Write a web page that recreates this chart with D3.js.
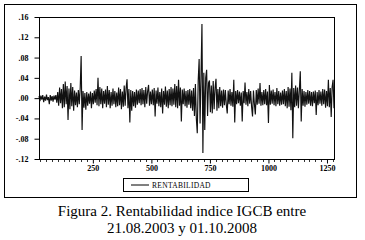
<!DOCTYPE html>
<meta charset="utf-8">
<title>Rentabilidad IGCB</title>
<style>

    body {
        margin: 0;
        background: #fff;
    }

    text {
        font-family: "Liberation Serif", serif;
        fill: #000;
    }

</style>
<body>
<script src="https://d3js.org/d3.v7.min.js"></script>
<script>

    // observations start at 20, one value every 4 observations
    var obsStart = 20,
        obsStep = 4;

    var rentabilidad = [
        .004,-.006,.005,-.003,.006,-.008,.003,-.005,.007,-.004,.002,-.012,.006,-.005,.004,-.007,.005,-.003,.006,-.009,
        .012,-.015,.021,-.010,.018,-.02,.028,-.018,.033,-.012,.024,-.043,.019,-.022,.03,-.016,.022,-.025,.015,-.014,
        .011,-.018,.016,-.012,.02,.083,-.063,.014,-.019,.01,-.023,.012,-.015,.009,-.011,.013,-.02,.01,-.012,.015,
        -.009,.018,-.014,.04,-.016,.022,-.012,.019,-.02,.014,-.011,.017,-.018,.024,-.013,.016,-.02,.012,-.015,.019,
        -.012,.014,-.018,.011,-.016,.021,-.014,.018,-.022,.013,-.017,.025,-.015,.02,.037,-.02,.018,-.048,.016,-.025,
        .014,-.016,.012,-.019,.017,-.013,.015,-.01,.018,-.014,.02,-.012,.016,-.018,.022,-.011,.014,.026,-.015,.013,
        -.012,.017,-.014,.02,-.036,.015,-.011,.021,-.016,.012,-.018,.019,-.03,.014,-.013,.023,-.017,.015,-.02,.018,
        -.014,.022,-.016,.019,-.013,.028,-.018,.024,-.02,.036,-.015,.021,-.046,.017,-.012,.019,-.016,.014,-.019,.016,
        -.013,.018,-.02,.015,-.025,.02,-.035,.028,-.04,-.069,.035,.077,-.05,.045,.146,-.108,.05,-.063,.04,.056,
        -.035,.03,.035,-.028,.025,-.03,.034,-.022,.02,.038,-.025,.018,-.02,.022,-.016,.015,-.019,.017,-.014,.016,
        -.013,-.03,.015,-.012,.018,-.015,.012,-.017,.036,-.048,.014,-.012,.016,-.01,.013,-.015,.011,-.046,.014,-.01,
        .031,-.013,.012,-.016,.018,-.011,.014,-.017,-.036,.015,-.012,-.032,.016,-.013,.019,-.011,.03,-.015,.012,-.014,
        .016,-.012,.018,-.014,.013,-.049,.026,-.013,.015,-.011,.017,-.014,.012,-.016,.02,-.012,.014,-.015,.011,-.013,
        .015,-.012,.018,-.016,.014,-.02,.022,-.017,.019,-.024,.05,-.079,.02,-.018,.025,-.015,.021,-.02,.016,.053,
        -.046,.018,-.015,.014,-.017,.012,-.013,.016,-.011,.014,-.015,.012,-.016,.013,-.01,.015,-.033,.012,-.014,.016,
        -.011,.013,-.015,.018,-.012,.017,-.019,.014,-.016,.036,-.018,.02,-.037,.022,.036,-.02
    ];

    var yTicks = [-.12, -.08, -.04, 0, .04, .08, .12, .16],
        yLabels = ["-.12", "-.08", "-.04", ".00", ".04", ".08", ".12", ".16"],
        xTicks = [250, 500, 750, 1000, 1250],
        legendLabel = "RENTABILIDAD",
        caption = ["Figura 2. Rentabilidad indice IGCB entre", "21.08.2003 y 01.10.2008"];

    var w = 365,
        h = 240,
        pLeft = 39,
        pRight = 334,
        pTop = 17,
        pBottom = 159;

    var svg = d3.select("body").append("svg")
        .attr("width", w)
        .attr("height", h);

    // outer frame
    svg.append("rect")
        .attr("x", 4.5)
        .attr("y", 4.5)
        .attr("width", 352)
        .attr("height", 193)
        .attr("fill", "none")
        .attr("stroke", "#000");

    var x = d3.scaleLinear().domain([20, 1280]).range([pLeft, pRight]),
        y = d3.scaleLinear().domain([-.12, .16]).range([pBottom, pTop]);

    var line = d3.line()
        .x(function(d, i) { return x(obsStart + i * obsStep); })
        .y(function(d) { return y(d); });

    svg.append("path")
        .datum(rentabilidad)
        .attr("d", line)
        .attr("fill", "none")
        .attr("stroke", "#111")
        .attr("stroke-width", 1.15)
        .attr("stroke-linejoin", "bevel");

    // plot box
    svg.append("rect")
        .attr("x", pLeft + .5)
        .attr("y", pTop + .5)
        .attr("width", pRight - pLeft)
        .attr("height", pBottom - pTop)
        .attr("fill", "none")
        .attr("stroke", "#000");

    var yAxis = d3.axisLeft(y)
        .tickValues(yTicks)
        .tickSize(5)
        .tickPadding(6)
        .tickFormat(function(d, i) { return yLabels[i]; });

    var gy = svg.append("g")
        .attr("transform", "translate(" + (pLeft + .5) + ",0)")
        .call(yAxis);
    gy.select(".domain").remove();
    gy.selectAll("text")
        .style("font-family", "Liberation Serif")
        .style("font-size", "8px")
        .style("font-weight", "bold")
        .attr("fill", "#000");

    var xAxis = d3.axisBottom(x)
        .tickValues(xTicks)
        .tickSize(4)
        .tickPadding(2)
        .tickFormat(d3.format("d"));

    var gx = svg.append("g")
        .attr("transform", "translate(0," + (pBottom + .5) + ")")
        .call(xAxis);
    gx.select(".domain").remove();
    gx.selectAll("text")
        .style("font-family", "Liberation Serif")
        .style("font-size", "8px")
        .style("font-weight", "bold")
        .attr("fill", "#000");

    // minor ticks every 25 observations
    var minor = d3.range(25, 1280, 25).filter(function(d) { return d % 250 !== 0; });
    svg.append("g").selectAll("line")
        .data(minor)
        .enter().append("line")
        .attr("x1", function(d) { return Math.round(x(d)) + .5; })
        .attr("x2", function(d) { return Math.round(x(d)) + .5; })
        .attr("y1", pBottom + 1)
        .attr("y2", pBottom + 3)
        .attr("stroke", "#000")
        .attr("stroke-width", 0.8);

    // legend
    svg.append("rect")
        .attr("x", 123.5)
        .attr("y", 178.5)
        .attr("width", 125)
        .attr("height", 13)
        .attr("fill", "none")
        .attr("stroke", "#000");

    svg.append("line")
        .attr("x1", 131)
        .attr("x2", 149)
        .attr("y1", 185)
        .attr("y2", 185)
        .attr("stroke", "#000");

    svg.append("text")
        .attr("x", 152)
        .attr("y", 187.5)
        .style("font-family", "Liberation Serif")
        .style("font-size", "7.5px")
        .style("letter-spacing", "0.3px")
        .text(legendLabel);

    svg.selectAll(".caption")
        .data(caption)
        .enter().append("text")
        .attr("class", "caption")
        .attr("x", 182)
        .attr("y", function(d, i) { return 216 + i * 17; })
        .attr("text-anchor", "middle")
        .style("font-family", "Liberation Serif")
        .style("font-size", "15px")
        .text(function(d) { return d; });

</script>
